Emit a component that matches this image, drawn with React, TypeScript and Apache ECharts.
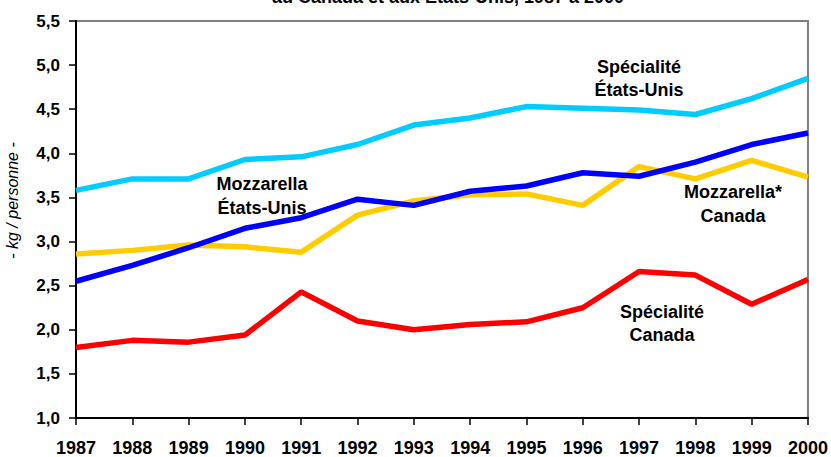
import React, { useEffect, useRef } from "react";
import * as echarts from "echarts";

const years = ["1987","1988","1989","1990","1991","1992","1993","1994","1995","1996","1997","1998","1999","2000"];
const specialiteEU = [3.58, 3.71, 3.71, 3.93, 3.96, 4.10, 4.32, 4.40, 4.53, 4.51, 4.49, 4.44, 4.62, 4.85];
const mozzarellaEU = [2.55, 2.73, 2.93, 3.15, 3.27, 3.48, 3.41, 3.57, 3.63, 3.78, 3.74, 3.90, 4.10, 4.23];
const mozzarellaCA = [2.86, 2.90, 2.96, 2.94, 2.88, 3.30, 3.46, 3.53, 3.54, 3.41, 3.85, 3.71, 3.92, 3.73];
const specialiteCA = [1.80, 1.88, 1.86, 1.94, 2.43, 2.10, 2.00, 2.06, 2.09, 2.25, 2.66, 2.62, 2.29, 2.57];

const titleText = "au Canada et aux États-Unis, 1987 à 2000";
const yAxisName = "- kg / personne -";

const FONT = "'Liberation Sans', Arial, Helvetica, sans-serif";

export default function App() {
  const ref = useRef<HTMLDivElement>(null);
  useEffect(() => {
    if (!ref.current) return;
    const chart = echarts.init(ref.current, undefined, { renderer: "svg" });
    const lineSeries = (name: string, data: number[], color: string) => ({
      name,
      type: "line",
      data,
      showSymbol: false,
      symbol: "none",
      lineStyle: { color, width: 5.5 },
      itemStyle: { color },
    });
    const label = (x: number, y: number, text: string) => ({
      type: "text",
      x,
      y,
      style: {
        text,
        fill: "#000",
        font: `bold 18px ${FONT}`,
        align: "center",
        verticalAlign: "middle",
        lineHeight: 23.5,
      },
      z: 100,
    });
    chart.setOption({
      animation: false,
      backgroundColor: "#fff",
      textStyle: { fontFamily: FONT },
      grid: {
        left: 76,
        right: 23,
        top: 21,
        bottom: 37,
        show: true,
        borderColor: "#808080",
        borderWidth: 2,
        backgroundColor: "transparent",
      },
      xAxis: {
        type: "category",
        data: years,
        boundaryGap: false,
        axisLine: { lineStyle: { color: "#000", width: 2 } },
        axisTick: { show: true, length: 7, lineStyle: { color: "#000", width: 1.5 } },
        axisLabel: {
          color: "#000",
          fontWeight: "bold",
          fontSize: 18,
          fontFamily: FONT,
          margin: 21,
          interval: 0,
        },
        splitLine: { show: false },
      },
      yAxis: {
        type: "value",
        min: 1,
        max: 5.5,
        interval: 0.5,
        axisLine: { show: true, lineStyle: { color: "#000", width: 2 } },
        axisTick: { show: true, length: 7, lineStyle: { color: "#000", width: 1.5 } },
        axisLabel: {
          color: "#000",
          fontWeight: "bold",
          fontSize: 17,
          fontFamily: FONT,
          margin: 16,
          formatter: (v: number) => v.toFixed(1).replace(".", ","),
        },
        splitLine: { show: false },
      },
      series: [
        lineSeries("Spécialité États-Unis", specialiteEU, "#00CCFF"),
        lineSeries("Mozzarella Canada", mozzarellaCA, "#FFCC00"),
        lineSeries("Mozzarella États-Unis", mozzarellaEU, "#0000FF"),
        lineSeries("Spécialité Canada", specialiteCA, "#FF0000"),
      ],
      graphic: [
        {
          type: "text",
          x: 448,
          y: -3.5,
          style: {
            text: titleText,
            fill: "#000",
            font: `bold 18px ${FONT}`,
            align: "center",
            verticalAlign: "middle",
          },
        },
        {
          type: "text",
          x: 12,
          y: 200.5,
          rotation: Math.PI / 2,
          style: {
            text: yAxisName,
            fill: "#000",
            font: `italic 16px ${FONT}`,
            align: "center",
            verticalAlign: "middle",
          },
        },
        label(262, 196, "Mozzarella\nÉtats-Unis"),
        label(639, 78.5, "Spécialité\nÉtats-Unis"),
        label(733, 204, "Mozzarella*\nCanada"),
        label(662, 323.5, "Spécialité\nCanada"),
      ],
    });
    return () => chart.dispose();
  }, []);
  return (
    <div
      ref={ref}
      style={{ position: "fixed", left: 0, top: 0, width: 831, height: 457, background: "#fff" }}
    />
  );
}
